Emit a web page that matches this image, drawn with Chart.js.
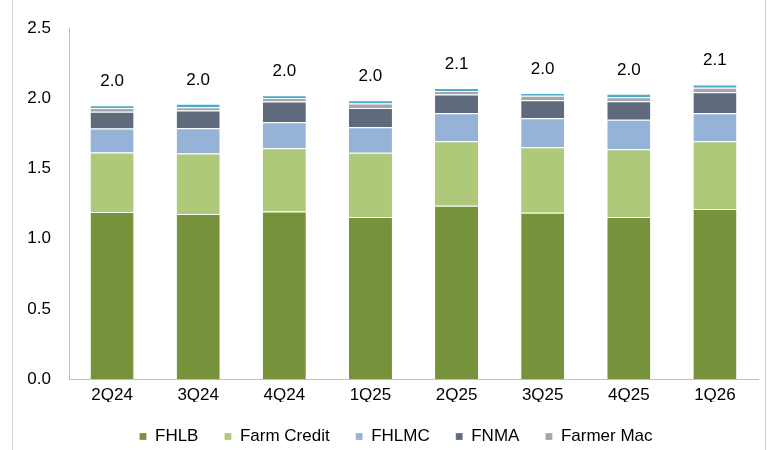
<!DOCTYPE html>
<html>
<head>
<meta charset="utf-8">
<script src="https://cdn.jsdelivr.net/npm/chart.js@4"></script>
<style>
    html, body { margin: 0; padding: 0; background: #fff; }
    #wrap { position: relative; width: 772px; height: 450px; }
    #frame { position: absolute; left: 12px; top: -1px; width: 752px; height: 460px;
             border-left: 1px solid #d4d4d4; border-right: 1px solid #d4d4d4; pointer-events: none; }
</style>
</head>
<body>
<div id="wrap">
    <canvas id="chart" width="772" height="450"></canvas>
    <div id="frame"></div>
</div>
<script>
// =============================================
// DATA
// =============================================
const quarters    = ['2Q24', '3Q24', '4Q24', '1Q25', '2Q25', '3Q25', '4Q25', '1Q26'];
const fhlb        = [1.19, 1.175, 1.194, 1.154, 1.234, 1.184, 1.154, 1.211];
const farmCredit  = [0.425, 0.432, 0.451, 0.458, 0.461, 0.468, 0.484, 0.484];
const fhlmc       = [0.171, 0.18, 0.185, 0.183, 0.199, 0.207, 0.209, 0.199];
const fnma        = [0.118, 0.126, 0.147, 0.137, 0.133, 0.128, 0.133, 0.15];
const farmerMac   = [0.028, 0.024, 0.026, 0.031, 0.026, 0.031, 0.028, 0.031];
const other       = [0.019, 0.024, 0.019, 0.024, 0.021, 0.021, 0.024, 0.024];
const yTicks      = [0, 0.5, 1.0, 1.5, 2.0, 2.5];

const FONT = '"Liberation Sans", Arial, sans-serif';
const FONT_SIZE = 17;

const seriesList = [
    { label: 'FHLB',        data: fhlb,       color: '#76933c' },
    { label: 'Farm Credit', data: farmCredit, color: '#afc97a' },
    { label: 'FHLMC',       data: fhlmc,      color: '#95b3d7' },
    { label: 'FNMA',        data: fnma,       color: '#5f6b7c' },
    { label: 'Farmer Mac',  data: farmerMac,  color: '#a5a5af' },
    { label: 'Other',       data: other,      color: '#4bacc6' },
];

// =============================================
// TOTAL LABELS above each stack
// =============================================
const totalsPlugin = {
    id: 'totals',
    afterLayout(chart) {
        // legend sits a bit right of the canvas centre, under the plot area
        chart.legend.left += 17;
        chart.legend.right += 17;
    },
    afterDatasetsDraw(chart) {
        const ctx = chart.ctx;
        const y = chart.scales.y;
        const metaFirst = chart.getDatasetMeta(0);
        ctx.save();
        ctx.font = FONT_SIZE + 'px ' + FONT;
        ctx.fillStyle = '#000';
        ctx.textAlign = 'center';
        ctx.textBaseline = 'middle';
        quarters.forEach((q, i) => {
            const total = seriesList.reduce((s, d) => s + d.data[i], 0);
            const px = metaFirst.data[i].x;
            ctx.fillText(total.toFixed(1), px, y.getPixelForValue(total) - 24);
        });
        ctx.restore();
    },
};

new Chart(document.getElementById('chart').getContext('2d'), {
    type: 'bar',
    data: {
        labels: quarters,
        datasets: seriesList.map(s => ({
            label: s.label,
            data: s.data,
            backgroundColor: s.color,
            borderColor: '#ffffff',
            borderWidth: { top: 1, bottom: 0, left: 0, right: 0 },
            borderSkipped: false,
            barPercentage: 0.5,
            categoryPercentage: 1.0,
        })),
    },
    options: {
        responsive: false,
        animation: false,
        layout: { padding: { top: 21, right: 14, left: 0, bottom: -5 } },
        plugins: {
            tooltip: { enabled: false },
            legend: {
                position: 'bottom',
                labels: {
                    font: { family: FONT, size: FONT_SIZE },
                    color: '#000',
                    boxWidth: 7,
                    boxHeight: 7,
                    padding: 26,
                    filter: item => item.text !== 'Other',
                },
            },
        },
        scales: {
            x: {
                stacked: true,
                afterFit: s => { s.height = 23; },
                grid: { display: false, drawTicks: false },
                border: { display: true, color: '#bfbfbf' },
                ticks: { font: { family: FONT, size: FONT_SIZE }, color: '#000', padding: 6 },
            },
            y: {
                stacked: true,
                min: 0,
                max: 2.5,
                afterFit: s => { s.width = 69; },
                afterBuildTicks: s => { s.ticks = yTicks.map(v => ({ value: v })); },
                grid: { display: false, drawTicks: false },
                border: { display: true, color: '#bfbfbf' },
                ticks: {
                    font: { family: FONT, size: FONT_SIZE },
                    color: '#000',
                    padding: 18,
                    callback: v => v.toFixed(1),
                },
            },
        },
    },
    plugins: [totalsPlugin],
});
</script>
</body>
</html>
